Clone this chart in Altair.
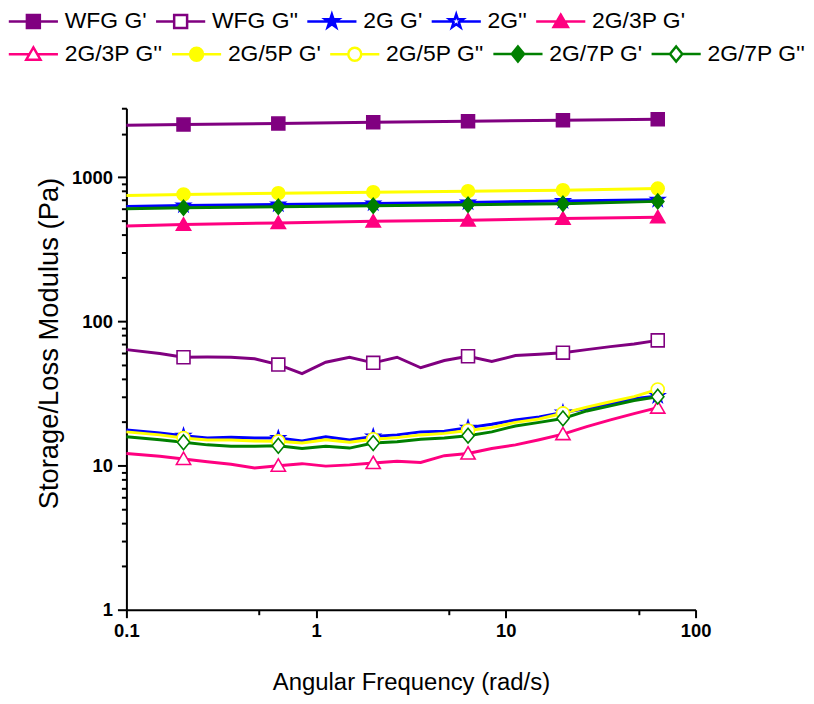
import altair as alt
import pandas as pd

# ---------------- data ----------------
freq_loss = [0.1, 0.15, 0.2, 0.267, 0.356, 0.474, 0.632, 0.843, 1.124, 1.5, 2.0, 2.67,
             3.56, 4.74, 6.32, 8.43, 11.24, 15.0, 20.0, 26.7, 35.6, 47.4, 63.2]
freq_storage = [0.1, 0.2, 0.632, 2.0, 6.32, 20.0, 63.2]
marker_freqs = [0.2, 0.632, 2.0, 6.32, 20.0, 63.2]

wfg_g1 = [2286, 2312, 2350, 2399, 2438, 2477, 2513]
g2_g1 = [626, 636, 646, 656, 667, 681, 695]
g3p_g1 = [458, 468, 481, 493, 501, 515, 526]
g5p_g1 = [745, 757, 773, 785, 798, 810, 832]
g7p_g1 = [603, 612, 622, 632, 642, 653, 678]

wfg_g2 = [63.6, 59.7, 56.3, 56.5, 56.3, 54.9, 50.1, 43.4, 52.0, 56.3, 51.5, 56.3,
          47.6, 53.4, 57.2, 52.6, 57.8, 59.0, 60.6, 63.6, 66.7, 69.6, 73.7]
g2_g2 = [17.6, 16.8, 16.1, 15.5, 15.7, 15.5, 15.5, 14.8, 15.8, 15.0, 15.9, 16.3,
         17.1, 17.3, 18.3, 19.3, 20.7, 21.7, 23.3, 24.8, 26.9, 29.0, 30.3]
g3p_g2 = [12.1, 11.6, 11.1, 10.6, 10.2, 9.6, 9.97, 10.3, 9.9, 10.1, 10.4, 10.7,
          10.5, 11.7, 12.1, 13.1, 13.9, 15.1, 16.5, 18.6, 20.7, 22.9, 25.2]
g5p_g2 = [17.1, 16.3, 15.5, 15.0, 15.0, 14.8, 14.7, 14.3, 15.1, 14.5, 15.2, 15.6,
          16.3, 16.7, 17.5, 18.3, 19.9, 21.0, 23.0, 25.4, 27.7, 30.0, 33.7]
g7p_g2 = [15.8, 15.1, 14.5, 13.9, 13.6, 13.6, 13.7, 13.1, 13.6, 13.2, 14.3, 14.6,
          15.2, 15.5, 16.1, 17.1, 18.8, 19.9, 21.2, 23.9, 25.9, 28.2, 30.0]

series_names = ["WFG G'", "WFG G''", "2G G'", "2G''", "2G/3P G'",
                "2G/3P G''", "2G/5P G'", "2G/5P G''", "2G/7P G'", "2G/7P G''"]
series_values = [wfg_g1, wfg_g2, g2_g1, g2_g2, g3p_g1, g3p_g2, g5p_g1, g5p_g2, g7p_g1, g7p_g2]
series_is_storage = [True, False, True, False, True, False, True, False, True, False]

PURPLE, BLUE, PINK, YELLOW, GREEN = "#800080", "#0000FF", "#FF0080", "#FFFF00", "#008000"
series_colors = [PURPLE, PURPLE, BLUE, BLUE, PINK, PINK, YELLOW, YELLOW, GREEN, GREEN]
series_fills = [PURPLE, "white", BLUE, "white", PINK, "white", YELLOW, "white", GREEN, "white"]

# ---------------- marker shapes ----------------
SQUARE = "M-1,-1H1V1H-1Z"
STAR = ("M0,-1.1L0.25,-0.34L1.05,-0.34L0.4,0.13L0.65,0.89L0,0.42L-0.65,0.89"
        "L-0.4,0.13L-1.05,-0.34L-0.25,-0.34Z")
TRI = "M0,-1.05L1.1,0.85L-1.1,0.85Z"
CIRCLE = "M1,0A1,1,0,1,1,-1,0A1,1,0,1,1,1,0Z"
DIAMOND = "M0,-1.15L0.95,0L0,1.15L-0.95,0Z"
marker_paths = [SQUARE, SQUARE, STAR, STAR, TRI, TRI, CIRCLE, CIRCLE, DIAMOND, DIAMOND]
edge_half = [1.0, 1.0, 0.55, 0.55, 0.6, 0.6, 1.0, 1.0, 0.95, 0.95]
L = 3.8
legend_paths = []
for p, e, st in zip(marker_paths, edge_half, series_is_storage):
    if st:
        legend_paths.append(f"M-{L},0H{L}" + p)
    else:
        legend_paths.append(f"M-{L},0H-{e}M{e},0H{L}" + p)

# ---------------- table ----------------
rows = []
for name, vals, st in zip(series_names, series_values, series_is_storage):
    fr = freq_storage if st else freq_loss
    for f, v in zip(fr, vals):
        rows.append({"series": name, "freq": f, "value": v,
                     "marker": any(abs(f - m) < 1e-6 for m in marker_freqs)})
df = pd.DataFrame(rows)
df_pts = df[df["marker"]].reset_index(drop=True)

FONT = "Liberation Sans"

x_enc = alt.X("freq:Q",
              scale=alt.Scale(type="log", domain=[0.1, 100], nice=False),
              axis=alt.Axis(
                  title="Angular Frequency (rad/s)",
                  values=[0.1, 0.5, 1, 5, 10, 50, 100],
                  labelExpr="indexof([0.1,1,10,100], datum.value) >= 0 ? format(datum.value, '~g') : ''",
                  tickSize={"condition": {"test": "indexof([0.1,1,10,100], datum.value) >= 0", "value": 8}, "value": 5},
                  labelFlush=False, labelOverlap=False,
                  labelPadding=4, titlePadding=31, titleFontSize=24,
              ))
y_enc = alt.Y("value:Q",
              scale=alt.Scale(type="log", domain=[1, 3000], nice=False),
              axis=alt.Axis(
                  title="Storage/Loss Modulus (Pa)",
                  values=[1, 2, 3, 4, 5, 6, 7, 8, 9, 10, 20, 30, 40, 50, 60, 70, 80, 90,
                          100, 200, 300, 400, 500, 600, 700, 800, 900, 1000, 2000, 3000],
                  labelExpr="indexof([1,10,100,1000], datum.value) >= 0 ? format(datum.value, 'd') : ''",
                  tickSize={"condition": {"test": "indexof([1,10,100,1000], datum.value) >= 0", "value": 9}, "value": 5},
                  labelFlush=False, labelOverlap=False,
                  labelPadding=5, titlePadding=8, titleFontSize=27.5, titleY=236,
              ))

lines = alt.Chart(df).mark_line(strokeWidth=3).encode(
    x=x_enc, y=y_enc,
    color=alt.Color("series:N", scale=alt.Scale(domain=series_names, range=series_colors), legend=None),
)

points = alt.Chart(df_pts).mark_point(strokeWidth=1.6, opacity=1, size=169).encode(
    x=x_enc, y=y_enc,
    shape=alt.Shape("series:N", scale=alt.Scale(domain=series_names, range=marker_paths), legend=None),
    stroke=alt.Stroke("series:N", scale=alt.Scale(domain=series_names, range=series_colors), legend=None),
    fill=alt.Fill("series:N", scale=alt.Scale(domain=series_names, range=series_fills), legend=None),
)


def legend_row(idx, legend_y):
    names = [series_names[i] for i in idx]
    leg = alt.Legend(title=None, orient="none", legendX=-119, legendY=legend_y,
                     direction="horizontal", columns=5,
                     labelFont=FONT, labelFontSize=23, labelColor="black",
                     symbolSize=169, symbolStrokeWidth=2.5, symbolOpacity=1,
                     symbolOffset=14, labelOffset=20, columnPadding=3,
                     labelLimit=300)
    sub = df_pts[df_pts["series"].isin(names)]
    return alt.Chart(sub).mark_point(opacity=0, size=169).encode(
        x=x_enc, y=y_enc,
        shape=alt.Shape("series:N", scale=alt.Scale(domain=names, range=[legend_paths[i] for i in idx]), legend=leg),
        stroke=alt.Stroke("series:N", scale=alt.Scale(domain=names, range=[series_colors[i] for i in idx]), legend=leg),
        fill=alt.Fill("series:N", scale=alt.Scale(domain=names, range=[series_fills[i] for i in idx]), legend=leg),
    )


legend_a = legend_row([0, 1, 2, 3, 4], -99)
legend_b = legend_row([5, 6, 7, 8, 9], -66)

chart = alt.layer(lines, points, legend_a, legend_b).resolve_scale(
    shape="independent", stroke="independent", fill="independent"
).properties(
    width=572, height=504,
    autosize=alt.AutoSizeParams(type="none"),
    padding={"left": 119, "top": 99, "right": 111, "bottom": 88},
).configure_view(stroke="transparent").configure_axis(
    grid=False, domainColor="black", domainWidth=2, tickColor="black", tickWidth=2,
    labelFont=FONT, labelFontSize=18.5, labelFontWeight="bold", labelColor="black",
    titleFont=FONT, titleFontWeight="normal", titleColor="black",
)

chart.save("out.html", embed_options={"renderer": "svg", "actions": False})
